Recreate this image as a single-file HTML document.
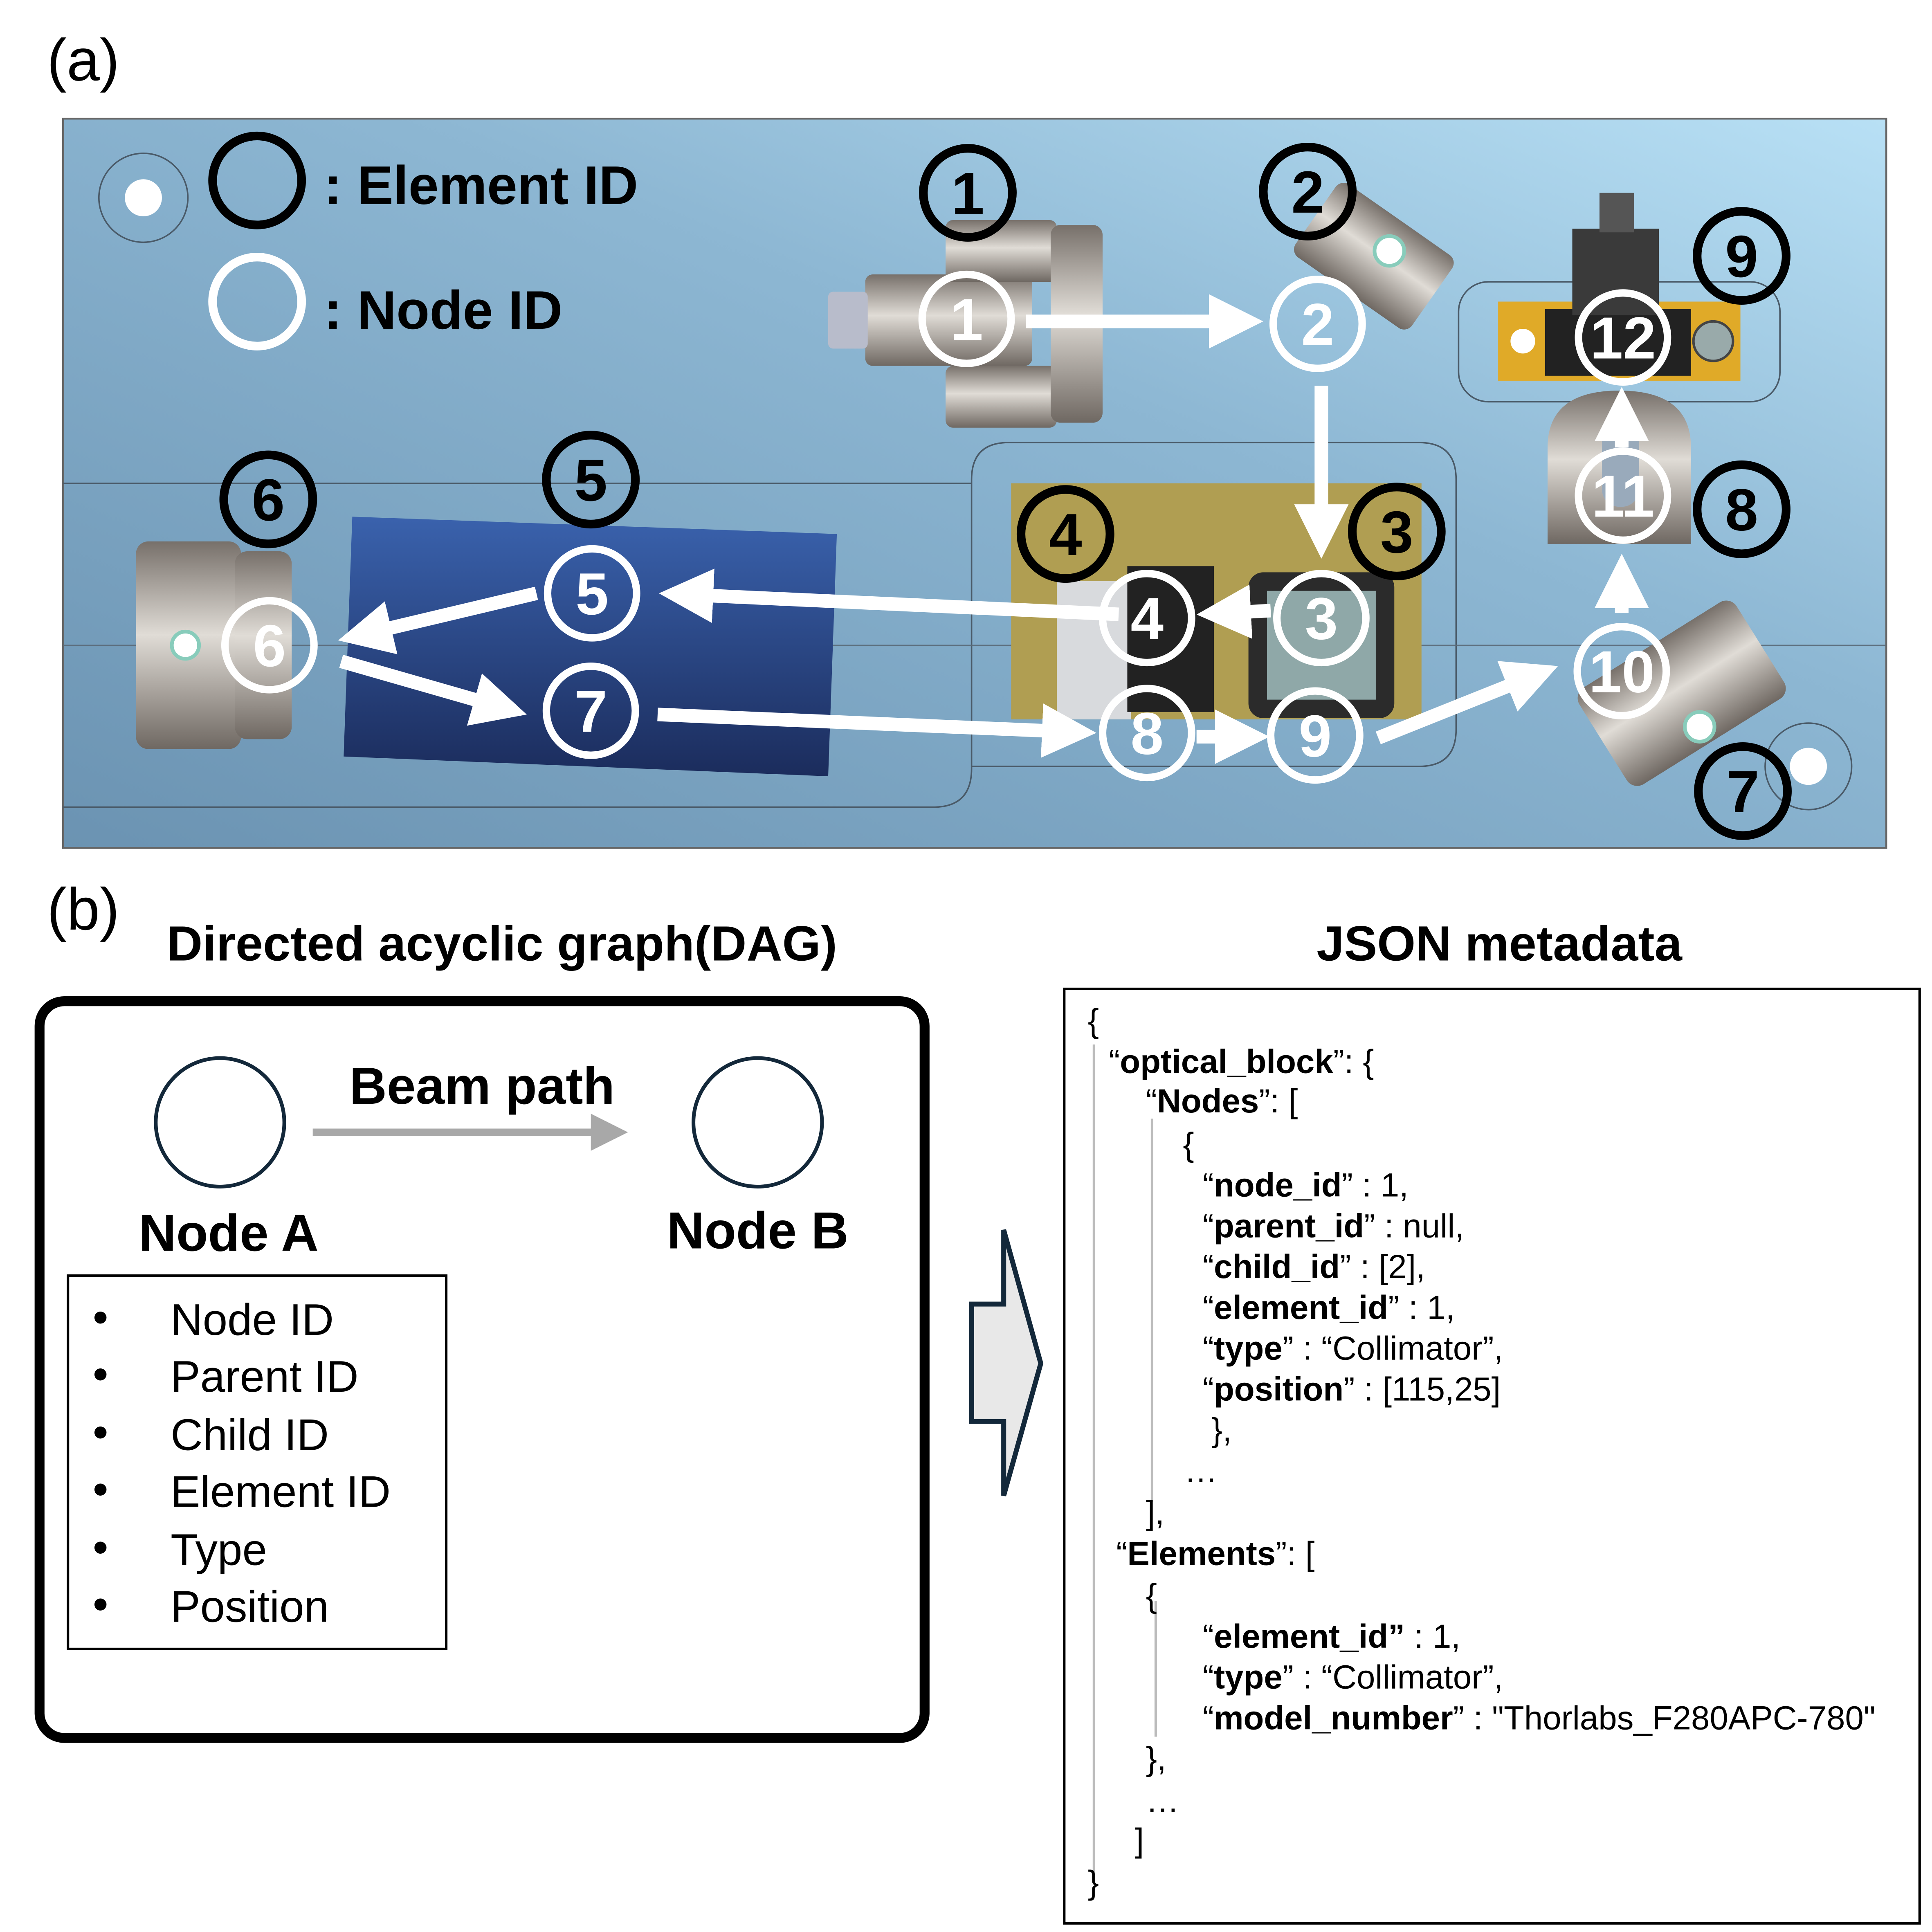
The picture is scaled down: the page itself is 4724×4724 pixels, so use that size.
<!DOCTYPE html>
<html><head><meta charset="utf-8"><style>html,body{margin:0;padding:0;background:#fff}svg{display:block}</style></head>
<body>
<svg width="4724" height="4724" viewBox="0 0 1563 1563" xmlns="http://www.w3.org/2000/svg" font-family="Liberation Sans, sans-serif">
<defs>
<linearGradient id="bg" x1="0" y1="1" x2="1" y2="0"><stop offset="0" stop-color="#6b93b2"/><stop offset="0.6" stop-color="#8db7d3"/><stop offset="1" stop-color="#b8e0f5"/></linearGradient>
<linearGradient id="blu" x1="0" y1="0" x2="0" y2="1"><stop offset="0" stop-color="#3a62ad"/><stop offset="1" stop-color="#1b2c5c"/></linearGradient>
<linearGradient id="met" x1="0" y1="0" x2="0" y2="1"><stop offset="0" stop-color="#77706a"/><stop offset="0.45" stop-color="#e0dcd6"/><stop offset="1" stop-color="#6f6862"/></linearGradient>
<marker id="wa" markerWidth="4" markerHeight="4" refX="2" refY="2" orient="auto" markerUnits="strokeWidth"><path d="M0,0 L4,2 L0,4 Z" fill="#fff"/></marker>
<marker id="ga" markerWidth="5" markerHeight="5" refX="3" refY="2.5" orient="auto" markerUnits="strokeWidth"><path d="M0,0 L5,2.5 L0,5 Z" fill="#a8a8a8"/></marker>
</defs>
<text x="38" y="65" font-size="48">(a)</text>
<rect x="51" y="96" width="1475" height="590" fill="url(#bg)" stroke="#666" stroke-width="1.5"/>
<path d="M51 391 H786 M51 653 H755 Q786 653 786 622 V388 Q786 358 816 358 H1148 Q1178 358 1178 388 V590 Q1178 620 1148 620 H786" fill="none" stroke="#4a5a68" stroke-width="1.2"/>
<rect x="1180" y="228" width="260" height="97" rx="24" fill="none" stroke="#4a5a68" stroke-width="1.2"/>
<circle cx="116" cy="160" r="36" fill="none" stroke="#4a5a68" stroke-width="1.2"/><circle cx="116" cy="160" r="15" fill="#fff"/>
<circle cx="1463" cy="620" r="35" fill="none" stroke="#4a5a68" stroke-width="1.2"/><circle cx="1463" cy="620" r="15" fill="#fff"/>
<line x1="51" y1="522" x2="1526" y2="522" stroke="#5a6a78" stroke-width="0.8"/>
<!-- legend -->
<circle cx="208" cy="146" r="36" fill="none" stroke="#000" stroke-width="7"/>
<text x="262" y="165" font-size="44" font-weight="bold">: Element ID</text>
<circle cx="208" cy="244" r="36" fill="none" stroke="#fff" stroke-width="7"/>
<text x="262" y="266" font-size="44" font-weight="bold">: Node ID</text>
<!-- blue block -->
<polygon points="285,418 677,432 670,628 278,612" fill="url(#blu)"/>
<!-- yellow board -->
<rect x="818" y="391" width="332" height="191" fill="#b09e52"/>
<rect x="1212" y="244" width="196" height="64" fill="#e0aa28"/>
<circle cx="1232" cy="276" r="10" fill="#fff"/>
<rect x="1250" y="250" width="118" height="54" fill="#222"/>
<rect x="1272" y="185" width="70" height="70" fill="#3a3a3a"/>
<rect x="1294" y="156" width="28" height="32" fill="#555"/>
<circle cx="1386" cy="276" r="16" fill="#9aa" stroke="#444" stroke-width="2"/>
<!-- components -->
<rect x="700" y="222" width="135" height="74" rx="6" fill="url(#met)"/>
<rect x="670" y="236" width="32" height="46" rx="4" fill="#b8bccb"/>
<rect x="765" y="178" width="90" height="50" rx="6" fill="url(#met)"/>
<rect x="765" y="296" width="90" height="50" rx="6" fill="url(#met)"/>
<rect x="850" y="182" width="42" height="160" rx="8" fill="url(#met)"/>
<g transform="rotate(35 1110 205)"><rect x="1055" y="170" width="115" height="72" rx="8" fill="url(#met)"/></g>
<circle cx="1124" cy="203" r="12" fill="#fff" stroke="#8cb" stroke-width="3"/>
<path d="M1252 440 V362 Q1252 316 1310 316 Q1368 316 1368 362 V440 Z" fill="url(#met)"/>
<rect x="1296" y="340" width="30" height="70" rx="14" fill="#9ab"/>
<rect x="110" y="438" width="85" height="168" rx="10" fill="url(#met)"/>
<rect x="190" y="446" width="46" height="152" rx="10" fill="url(#met)"/>
<circle cx="150" cy="522" r="11" fill="#fff" stroke="#8cb" stroke-width="3"/>
<rect x="855" y="470" width="60" height="112" fill="#d8dadd"/>
<rect x="912" y="458" width="70" height="118" fill="#222"/>
<rect x="1010" y="463" width="118" height="118" rx="12" fill="#2b2b2b"/>
<rect x="1025" y="478" width="88" height="88" fill="#8fa8a8"/>
<g transform="rotate(-32 1360 560)"><rect x="1285" y="515" width="150" height="92" rx="10" fill="url(#met)"/></g>
<circle cx="1375" cy="588" r="12" fill="#fff" stroke="#8cb" stroke-width="3"/>
<!-- arrows -->
<g stroke="#fff" stroke-width="11" fill="none" marker-end="url(#wa)">
<line x1="830" y1="260" x2="1000" y2="260"/>
<line x1="1069" y1="312" x2="1069" y2="430"/>
<line x1="1028" y1="494" x2="990" y2="496"/>
<line x1="905" y1="497" x2="555" y2="481"/>
<line x1="434" y1="480" x2="295" y2="513"/>
<line x1="276" y1="535" x2="405" y2="572"/>
<line x1="532" y1="578" x2="865" y2="592"/>
<line x1="968" y1="596" x2="1005" y2="596"/>
<line x1="1115" y1="597" x2="1240" y2="547"/>
<line x1="1312" y1="496" x2="1312" y2="470"/>
<line x1="1312" y1="362" x2="1312" y2="335"/>
</g>
<!-- white node circles -->
<g fill="none" stroke="#fff" stroke-width="6">
<circle cx="782" cy="258" r="36"/><circle cx="1066" cy="262" r="36"/><circle cx="1313" cy="273" r="36"/><circle cx="1313" cy="401" r="36"/><circle cx="1312" cy="543" r="36"/><circle cx="479" cy="480" r="36"/><circle cx="218" cy="522" r="36"/><circle cx="478" cy="575" r="36"/><circle cx="928" cy="500" r="36"/><circle cx="1069" cy="500" r="36"/><circle cx="928" cy="593" r="36"/><circle cx="1064" cy="595" r="36"/>
</g>
<g fill="#fff" font-size="48" font-weight="bold" text-anchor="middle">
<text x="782" y="275">1</text><text x="1066" y="279">2</text><text x="1313" y="290">12</text><text x="1313" y="418">11</text><text x="1312" y="560">10</text><text x="479" y="497">5</text><text x="218" y="539">6</text><text x="478" y="592">7</text><text x="928" y="517">4</text><text x="1069" y="517">3</text><text x="928" y="610">8</text><text x="1064" y="612">9</text>
</g>
<!-- black element circles -->
<g fill="none" stroke="#000" stroke-width="7">
<circle cx="783" cy="156" r="36"/><circle cx="1058" cy="155" r="36"/><circle cx="1409" cy="207" r="36"/><circle cx="478" cy="388" r="36"/><circle cx="217" cy="404" r="36"/><circle cx="862" cy="432" r="36"/><circle cx="1130" cy="430" r="36"/><circle cx="1409" cy="412" r="36"/><circle cx="1410" cy="640" r="36"/>
</g>
<g fill="#000" font-size="48" font-weight="bold" text-anchor="middle">
<text x="783" y="173">1</text><text x="1058" y="172">2</text><text x="1409" y="224">9</text><text x="478" y="405">5</text><text x="217" y="421">6</text><text x="862" y="449">4</text><text x="1130" y="447">3</text><text x="1409" y="429">8</text><text x="1410" y="657">7</text>
</g>
<!-- panel b -->
<text x="38" y="752" font-size="48">(b)</text>
<text x="135" y="777" font-size="40" font-weight="bold">Directed acyclic graph(DAG)</text>
<text x="1213" y="777" font-size="40" font-weight="bold" text-anchor="middle">JSON metadata</text>
<rect x="32" y="810" width="716" height="596" rx="20" fill="none" stroke="#000" stroke-width="8"/>
<circle cx="178" cy="908" r="52" fill="none" stroke="#13283a" stroke-width="3"/>
<circle cx="613" cy="908" r="52" fill="none" stroke="#13283a" stroke-width="3"/>
<text x="390" y="893" font-size="42" font-weight="bold" text-anchor="middle">Beam path</text>
<line x1="253" y1="916" x2="496" y2="916" stroke="#a8a8a8" stroke-width="6" marker-end="url(#ga)"/>
<text x="185" y="1012" font-size="42" font-weight="bold" text-anchor="middle">Node A</text>
<text x="613" y="1010" font-size="42" font-weight="bold" text-anchor="middle">Node B</text>
<rect x="55" y="1032" width="306" height="302" fill="none" stroke="#000" stroke-width="2"/>
<g font-size="36">
<text x="75" y="1078">•</text><text x="138" y="1080">Node ID</text>
<text x="75" y="1124">•</text><text x="138" y="1126">Parent ID</text>
<text x="75" y="1171">•</text><text x="138" y="1173">Child ID</text>
<text x="75" y="1217">•</text><text x="138" y="1219">Element ID</text>
<text x="75" y="1264">•</text><text x="138" y="1266">Type</text>
<text x="75" y="1310">•</text><text x="138" y="1312">Position</text>
</g>
<polygon points="786,1055 812,1055 812,995 842,1103 812,1210 812,1150 786,1150" fill="#e8e8e8" stroke="#13283a" stroke-width="4"/>
<rect x="861" y="800" width="692" height="756" fill="none" stroke="#000" stroke-width="2"/>
<g stroke="#bbb" stroke-width="2"><line x1="885" y1="845" x2="885" y2="1525"/><line x1="932" y1="905" x2="932" y2="1215"/><line x1="935" y1="1295" x2="935" y2="1405"/></g>
<g font-size="27">
<text x="880" y="835">{</text>
<text x="897" y="868">“<tspan font-weight="bold">optical_block</tspan>”: {</text>
<text x="927" y="900">“<tspan font-weight="bold">Nodes</tspan>”: [</text>
<text x="957" y="935">{</text>
<text x="973" y="968">“<tspan font-weight="bold">node_id</tspan>” : 1,</text>
<text x="973" y="1001">“<tspan font-weight="bold">parent_id</tspan>” : null,</text>
<text x="973" y="1034">“<tspan font-weight="bold">child_id</tspan>” : [2],</text>
<text x="973" y="1067">“<tspan font-weight="bold">element_id</tspan>” : 1,</text>
<text x="973" y="1100">“<tspan font-weight="bold">type</tspan>” : “Collimator”,</text>
<text x="973" y="1133">“<tspan font-weight="bold">position</tspan>” : [115,25]</text>
<text x="980" y="1166">},</text>
<text x="958" y="1199">…</text>
<text x="927" y="1233">],</text>
<text x="903" y="1266">“<tspan font-weight="bold">Elements</tspan>”: [</text>
<text x="927" y="1300">{</text>
<text x="973" y="1333">“<tspan font-weight="bold">element_id”</tspan> : 1,</text>
<text x="973" y="1366">“<tspan font-weight="bold">type</tspan>” : “Collimator”,</text>
<text x="973" y="1399">“<tspan font-weight="bold">model_number</tspan>” : "Thorlabs_F280APC-780"</text>
<text x="927" y="1432">},</text>
<text x="927" y="1466">…</text>
<text x="918" y="1498">]</text>
<text x="880" y="1532">}</text>
</g>
</svg>
</body></html>
